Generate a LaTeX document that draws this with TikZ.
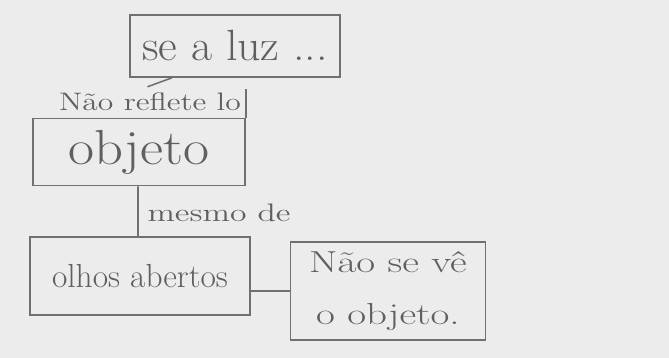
\documentclass[tikz,border=0pt]{standalone}
\usepackage{fontspec}
\usepackage{graphicx}
\usepackage{xcolor}
\usepackage{tikz}
\definecolor{pencil}{HTML}{707070}
\definecolor{paper}{HTML}{ECECEC}
\newcommand{\wide}[2]{\scalebox{#1}[1]{#2}}

\begin{document}
\begin{tikzpicture}[box/.style={draw=pencil, line width=0.9pt, text=pencil!85!black, align=center, inner sep=0pt}, lbl/.style={text=pencil!85!black}]
        \fill[paper] (0,0) rectangle (13.38,7.16);
        \useasboundingbox (0,0) rectangle (13.38,7.16);
        \node[box, minimum width=4.2cm, minimum height=1.24cm] (luz) at (4.70,6.24) {\Huge\wide{1.05}{se a luz ...}};
        \node[box, minimum width=4.24cm, minimum height=1.34cm] (obj) at (2.78,4.12) {\fontsize{28}{32}\selectfont\wide{1.15}{objeto}};
        \node[box, minimum width=4.4cm, minimum height=1.56cm] (olhos) at (2.80,1.64) {\fontsize{19}{22}\selectfont olhos abertos};
        \node[box, minimum width=3.9cm, minimum height=1.96cm] (ve) at (7.76,1.34) {\LARGE\wide{1.35}{Não se vê}\\[16pt] \LARGE\wide{1.35}{o objeto.}};
        \node[lbl] (reflete) at (3.0,5.12) {\Large\wide{1.25}{Não reflete lo}};
        \node[lbl] (mesmo) at (4.38,2.90) {\Large\wide{1.33}{mesmo de}};
        \coordinate (rl) at ([xshift=-0.02cm,yshift=-0.05cm]reflete.north east);
        
        \path[draw=pencil, line width=0.9pt]
        ([xshift=-1.26cm]luz.south) edge ([xshift=-0.05cm]reflete.north)
        (rl) edge (rl |- obj.north)
        ([xshift=-0.02cm]obj.south) edge ([xshift=-0.04cm]olhos.north)
        ([yshift=-0.3cm]olhos.east) edge ([yshift=-0.0cm]ve.west);
        
\end{tikzpicture}
\end{document}
